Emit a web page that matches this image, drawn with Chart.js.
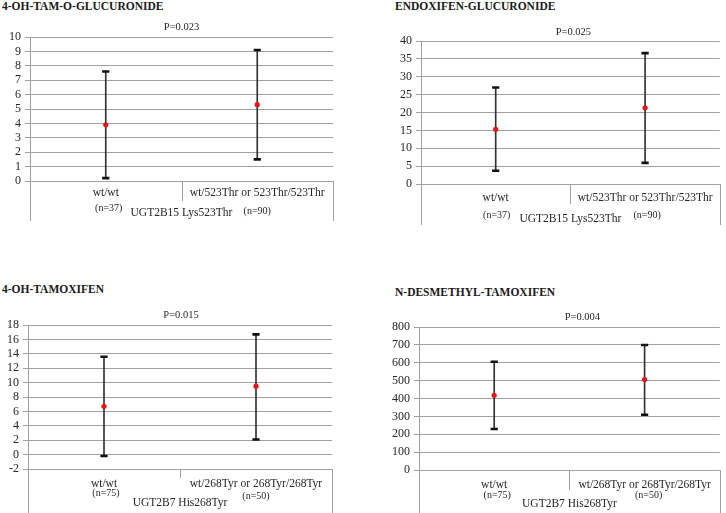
<!DOCTYPE html>
<html><head><meta charset="utf-8">
<script src="https://cdn.jsdelivr.net/npm/chart.js@4/dist/chart.umd.min.js"></script>
<style>
html,body{margin:0;padding:0;background:#fff;}
#wrap{position:relative;width:726px;height:513px;overflow:hidden;background:#fff;}
.panel{position:absolute;}
.ttl{position:absolute;font:bold 11.5px "Liberation Serif",serif;color:#1a1a1a;white-space:nowrap;line-height:12px;}
</style></head><body>
<div id="wrap"></div>
<script>
// ---- data ----
const panelTitles = ["4-OH-TAM-O-GLUCURONIDE", "ENDOXIFEN-GLUCURONIDE", "4-OH-TAMOXIFEN", "N-DESMETHYL-TAMOXIFEN"];
const pValues = ["P=0.023", "P=0.025", "P=0.015", "P=0.004"];
const geneLabels = ["UGT2B15 Lys523Thr", "UGT2B15 Lys523Thr", "UGT2B7 His268Tyr", "UGT2B7 His268Tyr"];
const genotypes523 = ["wt/wt", "wt/523Thr or 523Thr/523Thr"];
const genotypes268 = ["wt/wt", "wt/268Tyr or 268Tyr/268Tyr"];
const n523 = ["(n=37)", "(n=90)"];
const n268 = ["(n=75)", "(n=50)"];

const glucMean = [3.9, 5.3];
const glucLow  = [0.2, 1.5];
const glucHigh = [7.6, 9.1];

const endoxMean = [15.3, 21.3];
const endoxLow  = [3.7, 5.9];
const endoxHigh = [27.0, 36.6];

const ohTamMean = [6.7, 9.5];
const ohTamLow  = [-0.2, 2.1];
const ohTamHigh = [13.6, 16.7];

const ndmMean = [418, 506];
const ndmLow  = [229, 309];
const ndmHigh = [606, 699];

const yMinList  = [0, 0, -2, 0];
const yMaxList  = [10, 40, 18, 800];
const yStepList = [1, 5, 2, 100];

// ---- layout (positions / styles only) ----
const GRID = "#a0a0a0";
const TXT = "#262626";
const SERIF = '"Liberation Serif", "Times New Roman", serif';
const layouts = [
  {x:0,   y:0,   w:363, h:256, area:[30,333,37,181], title:[2,0],   pDy:10, pDx:0,  catDy:12, nDy:[27,30], nDx:[3,0], geneDy:32, boxDy:40, divLen:20},
  {x:363, y:0,   w:363, h:256, area:[58,360,41,184], title:[32,0],  pDy:9,  pDx:3,  catDy:14, nDy:[31,31], nDx:[1,2], geneDy:35, boxDy:41, divLen:20},
  {x:0,   y:256, w:363, h:257, area:[28,332,69,213], title:[2,27],  pDy:10, pDx:1,  catDy:15, nDy:[24,27], nDx:[2,0], geneDy:34, boxDy:44, divLen:9},
  {x:363, y:256, w:363, h:257, area:[56,359,71,214], title:[32,30], pDy:10, pDx:13, catDy:15, nDy:[25,25], nDx:[3,4], geneDy:34, boxDy:43, divLen:20}
];
const panelData = [
  {cats:genotypes523, ns:n523, mean:glucMean,  low:glucLow,  high:glucHigh},
  {cats:genotypes523, ns:n523, mean:endoxMean, low:endoxLow, high:endoxHigh},
  {cats:genotypes268, ns:n268, mean:ohTamMean, low:ohTamLow, high:ohTamHigh},
  {cats:genotypes268, ns:n268, mean:ndmMean,   low:ndmLow,   high:ndmHigh}
];

const boxPlugin = {
  id: 'catbox',
  afterDraw(chart, args, o) {
    const L = o.L, D = o.D, i = o.i;
    const a = chart.chartArea, xs = chart.scales.x, ctx = chart.ctx;
    const px = v => Math.round(v) + 0.5;
    ctx.save();
    ctx.strokeStyle = GRID; ctx.lineWidth = 1;
    ctx.beginPath();
    ctx.moveTo(px(a.left), a.bottom); ctx.lineTo(px(a.left), a.bottom + L.boxDy);
    ctx.moveTo(px(a.right), a.bottom); ctx.lineTo(px(a.right), a.bottom + L.boxDy);
    const mid = (xs.getPixelForValue(0) + xs.getPixelForValue(1)) / 2;
    ctx.moveTo(px(mid), a.bottom); ctx.lineTo(px(mid), a.bottom + L.divLen);
    ctx.stroke();
    ctx.fillStyle = TXT;
    ctx.textAlign = 'center'; ctx.textBaseline = 'middle';
    const cx = (a.left + a.right) / 2;
    ctx.font = '10.5px ' + SERIF;
    ctx.fillText(pValues[i], cx + L.pDx, a.top - L.pDy);
    ctx.font = '11.5px ' + SERIF;
    D.cats.forEach((c, k) => ctx.fillText(c, xs.getPixelForValue(k), a.bottom + L.catDy));
    ctx.fillText(geneLabels[i], cx, a.bottom + L.geneDy);
    ctx.font = '10px ' + SERIF;
    D.ns.forEach((n, k) => ctx.fillText(n, xs.getPixelForValue(k) + L.nDx[k], a.bottom + L.nDy[k]));
    ctx.restore();
  }
};

const wrap = document.getElementById('wrap');
layouts.forEach((L, i) => {
  const D = panelData[i];
  const t = document.createElement('div');
  t.className = 'ttl';
  t.style.left = (L.x + L.title[0]) + 'px';
  t.style.top = (L.y + L.title[1]) + 'px';
  t.textContent = panelTitles[i];
  wrap.appendChild(t);

  const cv = document.createElement('canvas');
  cv.className = 'panel';
  cv.width = L.w; cv.height = L.h;
  cv.style.left = L.x + 'px'; cv.style.top = L.y + 'px';
  cv.style.width = L.w + 'px'; cv.style.height = L.h + 'px';
  wrap.appendChild(cv);

  new Chart(cv, {
    type: 'bar',
    data: {
      labels: D.cats,
      datasets: [
        {type:'line', data:D.mean, showLine:false, pointStyle:'circle', pointRadius:2.6, pointHoverRadius:2.6,
         pointBackgroundColor:'#e8141b', pointBorderWidth:0, borderColor:'#e8141b', order:0},
        {type:'line', data:D.high, showLine:false, pointStyle:'line', pointRadius:3.6, pointHoverRadius:3.6,
         pointBorderColor:'#111', pointBorderWidth:2.6, order:1},
        {type:'line', data:D.low, showLine:false, pointStyle:'line', pointRadius:3.6, pointHoverRadius:3.6,
         pointBorderColor:'#111', pointBorderWidth:2.6, order:1},
        {type:'bar', data:D.low.map((l, k) => [l, D.high[k]]), barThickness:1, backgroundColor:'#333', borderWidth:0, order:2}
      ]
    },
    options: {
      responsive:false, animation:false, devicePixelRatio:1, events:[],
      layout:{padding:{left:0, top:L.area[2], right:L.w - L.area[1], bottom:L.h - L.area[3]}},
      plugins:{legend:{display:false}, tooltip:{enabled:false}, catbox:{L:L, D:D, i:i}},
      scales:{
        x:{display:false, offset:true},
        y:{
          min:yMinList[i], max:yMaxList[i],
          afterFit(s){ s.width = L.area[0]; },
          ticks:{stepSize:yStepList[i], autoSkip:false, color:TXT, font:{family:SERIF, size:12}, padding:4},
          grid:{color:GRID, lineWidth:1, tickLength:5, drawTicks:true},
          border:{color:GRID, width:1}
        }
      }
    },
    plugins:[boxPlugin]
  });
});
</script>
</body></html>
